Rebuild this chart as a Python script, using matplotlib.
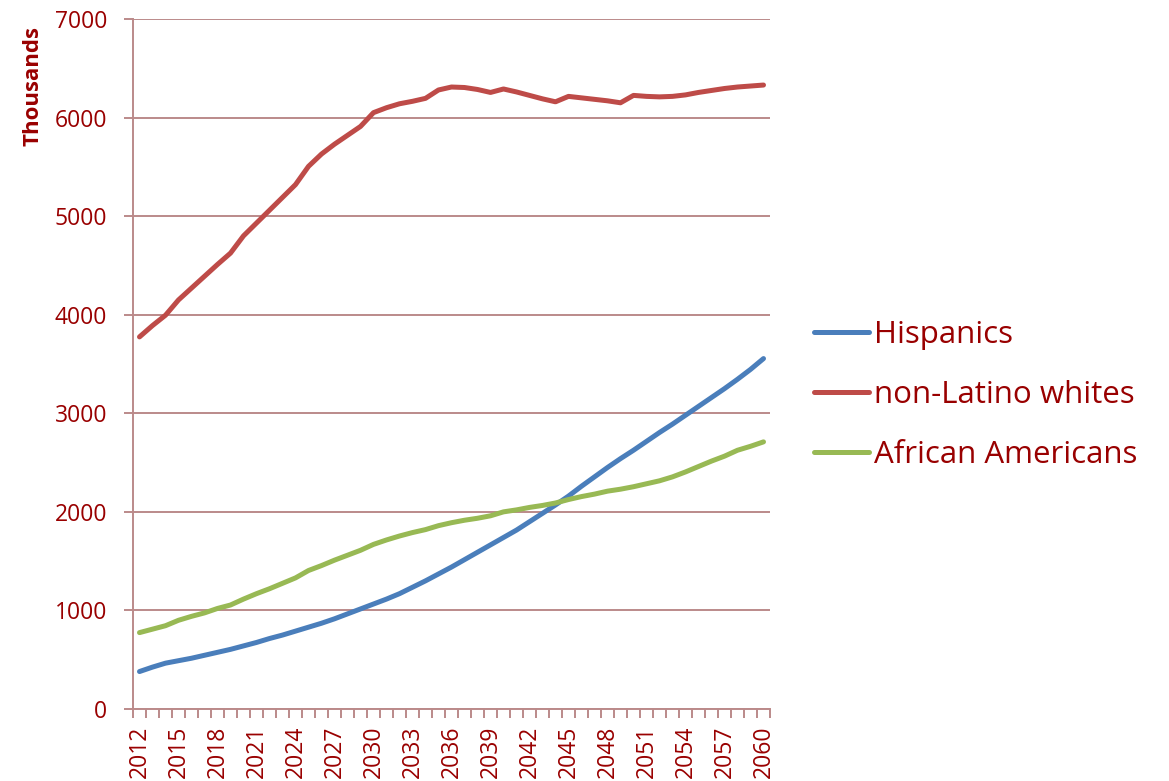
import matplotlib
matplotlib.use("Agg")
import matplotlib.pyplot as plt
import numpy as np

years = list(range(2012, 2061))
hispanics = [380, 425, 465, 490, 515, 545, 575, 605, 640, 675, 715, 750, 790, 830,
             870, 915, 965, 1015, 1065, 1115, 1170, 1235, 1300, 1370, 1440, 1515,
             1590, 1665, 1740, 1815, 1900, 1985, 2070, 2160, 2260, 2355, 2450, 2540,
             2625, 2715, 2805, 2890, 2980, 3070, 3160, 3250, 3345, 3445, 3555]
whites = [3775, 3890, 3995, 4150, 4270, 4390, 4510, 4625, 4800, 4930, 5060, 5190,
          5320, 5505, 5630, 5730, 5820, 5910, 6050, 6100, 6140, 6165, 6195, 6280,
          6310, 6305, 6285, 6255, 6290, 6260, 6225, 6190, 6160, 6215, 6200, 6185,
          6170, 6150, 6225, 6215, 6210, 6215, 6230, 6255, 6275, 6295, 6310, 6320, 6330]
african = [775, 810, 845, 900, 940, 975, 1020, 1055, 1115, 1170, 1220, 1275, 1330,
           1405, 1455, 1510, 1560, 1610, 1670, 1715, 1755, 1790, 1820, 1860, 1890,
           1915, 1935, 1960, 2000, 2020, 2045, 2065, 2090, 2125, 2155, 2180, 2210,
           2230, 2255, 2285, 2315, 2355, 2405, 2460, 2515, 2565, 2625, 2665, 2710]
series_names = ["Hispanics", "non-Latino whites", "African Americans"]
series_colors = ["#4A7EBB", "#BE4B48", "#98B954"]
y_ticks = [0, 1000, 2000, 3000, 4000, 5000, 6000, 7000]

label_color = "#990000"
axis_color = "#BB8A8A"
font = "Open Sans"

fig = plt.figure(figsize=(11.69, 7.81), dpi=100)
ax = fig.add_axes([133/1169, 1 - 709/781, (770-133)/1169, (709-19)/781])

x = np.arange(len(years))
for vals, name, col in zip([hispanics, whites, african], series_names, series_colors):
    ax.plot(x, vals, color=col, lw=3.6, label=name, solid_capstyle="round",
            solid_joinstyle="round")

ax.set_xlim(-0.5, len(years) - 0.5)
ax.set_ylim(0, 7000)
ax.set_yticks(y_ticks)
ax.set_yticklabels([str(v) for v in y_ticks], fontsize=16.5, color=label_color, family=font)
ax.yaxis.grid(True, color=axis_color, lw=1.4)
ax.set_axisbelow(True)

major = x[::3]
ax.set_xticks(major)
ax.set_xticklabels([str(years[i]) for i in major], rotation=90, fontsize=16.5,
                   color=label_color, family=font)
ax.set_xticks(np.arange(len(years) + 1) - 0.5, minor=True)
ax.tick_params(axis="x", which="major", length=0, pad=12)
ax.tick_params(axis="x", which="minor", length=6.5, width=1.4, color=axis_color)
ax.tick_params(axis="y", which="major", length=6.5, width=1.4, color=axis_color, pad=12)

for s in ["top", "right"]:
    ax.spines[s].set_visible(False)
for s in ["left", "bottom"]:
    ax.spines[s].set_color(axis_color)
    ax.spines[s].set_linewidth(1.4)

fig.text(33/1169, 1 - 86/781, "Thousands", rotation=90, ha="center", va="center",
         fontsize=16, fontweight="bold", color=label_color, family=font)

leg = fig.legend(loc="center left", bbox_to_anchor=(786/1169, 1 - 395/781),
                 frameon=False, handlelength=1.76, handletextpad=0.15,
                 labelspacing=0.95, prop={"family": font, "size": 22.5})
for t in leg.get_texts():
    t.set_color(label_color)

fig.savefig("out.png", dpi=100)
